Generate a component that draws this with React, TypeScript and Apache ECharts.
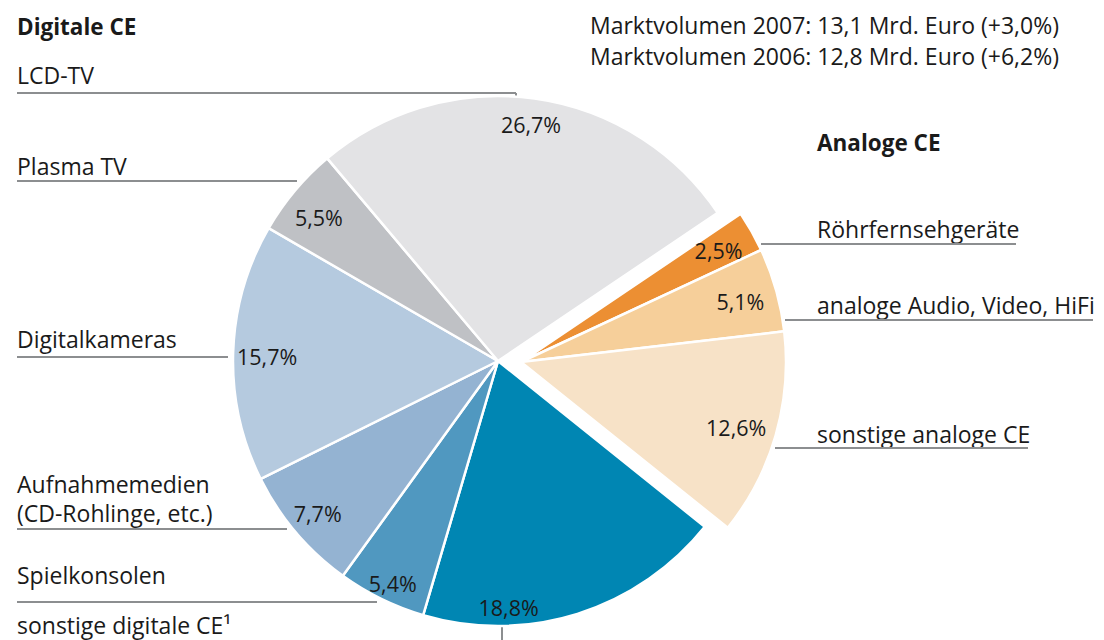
import { useEffect, useRef } from 'react';
import * as echarts from 'echarts';

// ---------- data ----------
const categories = [
  'Röhrfernsehgeräte',
  'analoge Audio, Video, HiFi',
  'sonstige analoge CE',
  'sonstige digitale CE¹',
  'Spielkonsolen',
  'Aufnahmemedien\n(CD-Rohlinge, etc.)',
  'Digitalkameras',
  'Plasma TV',
  'LCD-TV',
];
const shares = [2.5, 5.1, 12.6, 18.8, 5.4, 7.7, 15.7, 5.5, 26.7];
const isAnalog = [true, true, true, false, false, false, false, false, false];
const groupTitles = ['Digitale CE', 'Analoge CE'];
const marketNotes = [
  'Marktvolumen 2007: 13,1 Mrd. Euro (+3,0%)',
  'Marktvolumen 2006: 12,8 Mrd. Euro (+6,2%)',
];

// ---------- styles / layout ----------
const sliceColors = ['#ec8f33', '#f6cf9a', '#f7e2c7', '#0086b3', '#5098c0', '#94b3d2', '#b5cadf', '#bfc1c5', '#e3e3e5'];
const FONT = '"Open Sans", "Noto Sans", sans-serif';
const TEXT = '#1a1a1a';
const LINE = '#8c8e90';
const R = 265;
const DIGITAL_CENTER = [498, 361];
const ANALOG_CENTER = [521, 362];
const START_ANGLE = 34;
const LINE_HEIGHT = 29;
// percentage label nudges
const labelOffsets = [[0, 0], [1, 1], [-3, 3], [-61, 18], [0, 8], [2, -2], [8, 3], [4, 10], [0, 0]];
// category annotation layout: text anchor, underline (x1,x2,y), optional tick
const annotations = [
  { x: 817, y: 229, line: [761, 1016, 244] },
  { x: 817, y: 305, line: [785, 1093, 320] },
  { x: 817, y: 434, line: [775, 1028, 448] },
  { x: 17, y: 625, tick: [502, 627, 640] },
  { x: 17, y: 575, line: [17, 377, 602] },
  { x: 17, y: 484, line: [17, 287, 529] },
  { x: 17, y: 339, line: [17, 228, 357] },
  { x: 17, y: 166, line: [17, 297, 181] },
  { x: 17, y: 75, line: [17, 516, 93], tick: [516, 93, 107] },
];

const fmt = (v: number) => v.toFixed(1).replace('.', ',') + '%';
const CLEAR = 'rgba(0,0,0,0)';

function sliceSeries(analog: boolean) {
  return {
    type: 'pie',
    silent: true,
    center: analog ? ANALOG_CENTER : DIGITAL_CENTER,
    radius: [0, R],
    startAngle: START_ANGLE,
    clockwise: true,
    avoidLabelOverlap: false,
    label: { show: false },
    labelLine: { show: false },
    emphasis: { disabled: true },
    itemStyle: { borderColor: '#ffffff', borderWidth: 2.5 },
    data: categories.map((name, i) => ({
      name,
      value: shares[i],
      itemStyle:
        isAnalog[i] === analog
          ? { color: sliceColors[i] }
          : { color: CLEAR, borderWidth: 0 },
    })),
  };
}

function labelSeries(analog: boolean) {
  const mid = analog ? 224 : 236;
  return {
    type: 'pie',
    silent: true,
    center: analog ? ANALOG_CENTER : DIGITAL_CENTER,
    radius: [mid - 36, mid + 36],
    startAngle: START_ANGLE,
    clockwise: true,
    avoidLabelOverlap: false,
    labelLine: { show: false },
    emphasis: { disabled: true },
    itemStyle: { color: CLEAR, borderWidth: 0 },
    label: {
      position: 'inside',
      color: TEXT,
      fontFamily: FONT,
      fontSize: 21.5,
      formatter: (p: any) => fmt(p.value),
    },
    data: categories.map((name, i) => ({
      name,
      value: shares[i],
      label: { show: isAnalog[i] === analog, offset: labelOffsets[i] },
    })),
  };
}

function buildGraphic() {
  const els: any[] = [];
  const txt = (x: number, y: number, text: string, bold = false) => ({
    type: 'text',
    x,
    y,
    style: {
      text,
      fill: TEXT,
      font: `${bold ? 'bold 22.5px' : '23px'} ${FONT}`,
      textVerticalAlign: 'middle',
      lineHeight: LINE_HEIGHT,
    },
  });
  els.push(txt(17, 26, groupTitles[0], true));
  els.push(txt(817, 142, groupTitles[1], true));
  els.push(txt(590, 25, marketNotes[0]));
  els.push(txt(590, 56, marketNotes[1]));
  categories.forEach((name, i) => {
    const a: any = annotations[i];
    const nLines = name.split('\n').length;
    els.push(txt(a.x, a.y + ((nLines - 1) * LINE_HEIGHT) / 2, name));
    if (a.line) {
      els.push({
        type: 'line',
        shape: { x1: a.line[0], y1: a.line[2], x2: a.line[1], y2: a.line[2] },
        style: { stroke: LINE, lineWidth: 2 },
      });
    }
    if (a.tick) {
      els.push({
        type: 'line',
        shape: { x1: a.tick[0], y1: a.tick[1], x2: a.tick[0], y2: a.tick[2] },
        style: { stroke: LINE, lineWidth: 2 },
      });
    }
  });
  return els;
}

export default function App() {
  const ref = useRef<HTMLDivElement>(null);
  useEffect(() => {
    if (!ref.current) return;
    const chart = echarts.init(ref.current, undefined, { renderer: 'svg' });
    chart.setOption({
      animation: false,
      backgroundColor: '#ffffff',
      series: [sliceSeries(false), sliceSeries(true), labelSeries(false), labelSeries(true)],
      graphic: buildGraphic(),
    });
    return () => chart.dispose();
  }, []);
  return (
    <div
      ref={ref}
      style={{ position: 'fixed', left: 0, top: 0, width: 1104, height: 640 }}
    />
  );
}
